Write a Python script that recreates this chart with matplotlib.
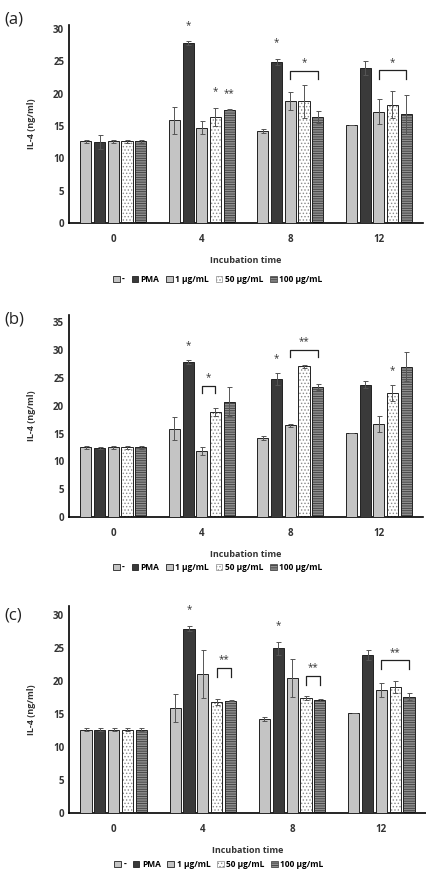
import matplotlib.pyplot as plt
from matplotlib.patches import Patch
import numpy as np

plt.rcParams['font.family'] = ['Open Sans', 'DejaVu Sans']
plt.rcParams['hatch.linewidth'] = 0.6

times = ['0', '4', '8', '12']
series = ['-', 'PMA', '1 µg/mL', '50 µg/mL', '100 µg/mL']

# panel (a): rows = series, cols = incubation time
a_vals = [[12.6, 15.9, 14.2, 15.1],
          [12.5, 27.8, 24.9, 23.9],
          [12.6, 14.7, 18.8, 17.2],
          [12.6, 16.4, 18.8, 18.3],
          [12.6, 17.5, 16.4, 16.8]]
a_errs = [[0.2, 2.1, 0.3, 0.0],
          [1.1, 0.3, 0.5, 1.1],
          [0.2, 1.0, 1.4, 1.9],
          [0.2, 1.4, 2.6, 2.1],
          [0.2, 0.1, 0.9, 3.0]]

# panel (b)
b_vals = [[12.5, 15.9, 14.2, 15.1],
          [12.4, 27.9, 24.8, 23.8],
          [12.5, 11.8, 16.5, 16.7],
          [12.5, 18.9, 27.1, 22.3],
          [12.5, 20.7, 23.4, 27.0]]
b_errs = [[0.2, 2.1, 0.3, 0.0],
          [0.2, 0.4, 1.0, 0.7],
          [0.2, 0.7, 0.3, 1.5],
          [0.2, 0.7, 0.3, 1.5],
          [0.2, 2.6, 0.5, 2.6]]

# panel (c)
c_vals = [[12.6, 15.9, 14.2, 15.1],
          [12.6, 27.9, 24.9, 23.9],
          [12.6, 21.0, 20.4, 18.6],
          [12.6, 16.8, 17.4, 19.0],
          [12.6, 17.0, 17.1, 17.6]]
c_errs = [[0.2, 2.1, 0.3, 0.0],
          [0.2, 0.4, 1.0, 0.8],
          [0.2, 3.6, 2.9, 1.0],
          [0.2, 0.4, 0.3, 0.9],
          [0.2, 0.1, 0.2, 0.5]]

# significance stars: (time index, series index, label)
a_stars = [(1, 1, '*'), (1, 3, '*'), (1, 4, '**'), (2, 1, '*')]
b_stars = [(1, 1, '*'), (2, 1, '*'), (3, 3, '*')]
c_stars = [(1, 1, '*'), (2, 1, '*')]
# brackets: (time index, first series, last series, height, label)
a_brackets = [(2, 2, 4, 23.5, '*'), (3, 2, 4, 23.6, '*')]
b_brackets = [(1, 2, 3, 23.6, '*'), (2, 2, 4, 30.1, '**')]
c_brackets = [(1, 3, 4, 21.9, '**'), (2, 3, 4, 20.7, '**'), (3, 2, 4, 23.1, '**')]

face = ['#c4c4c4', '#3a3a3a', '#c4c4c4', '#ffffff', '#8e8e8e']
hatch = [None, None, None, '.....', '-------']
hatch_col = [None, None, None, '#8a8a8a', '#3c3c3c']

fig = plt.figure(figsize=(4.26, 8.69), dpi=100)

# label, data, ymax, axes rect, panel-label y, legend offset
panels = [
    ('(a)', a_vals, a_errs, a_stars, a_brackets, 30.6,
     [0.162, 0.7434, 0.831, 0.2278], 0.977, -0.245),
    ('(b)', b_vals, b_errs, b_stars, b_brackets, 36.3,
     [0.162, 0.405, 0.831, 0.2325], 0.632, -0.21),
    ('(c)', c_vals, c_errs, c_stars, c_brackets, 31.25,
     [0.162, 0.0644, 0.838, 0.2378], 0.292, -0.21),
]

x = np.arange(len(times))
step = 0.155
w = 0.125

handles = []
for i in range(len(series)):
    if hatch[i]:
        handles.append(Patch(facecolor=face[i], hatch=hatch[i],
                             edgecolor=hatch_col[i], linewidth=0.5, label=series[i]))
    else:
        handles.append(Patch(facecolor=face[i], edgecolor='#222222',
                             linewidth=0.6, label=series[i]))

for label, vals, errs, stars, brackets, ytop, rect, ly, loff in panels:
    ax = fig.add_axes(rect)
    for i in range(len(series)):
        pos = x + (i - 2) * step
        v = np.array(vals[i])
        e = np.array(errs[i])
        if hatch[i]:
            ax.bar(pos, v, w, color=face[i], hatch=hatch[i],
                   edgecolor=hatch_col[i], linewidth=0, zorder=2)
            ax.bar(pos, v, w, color='none', edgecolor='#222222',
                   linewidth=0.7, zorder=3)
        else:
            ax.bar(pos, v, w, color=face[i], edgecolor='#222222',
                   linewidth=0.7, zorder=3)
        ax.errorbar(pos, v, yerr=e, fmt='none', ecolor='#555555',
                    elinewidth=0.7, capsize=1.8, capthick=0.7, zorder=4)
    for t, s, txt in stars:
        top = vals[s][t] + errs[s][t]
        ax.text(x[t] + (s - 2) * step, top + 1.6, txt, ha='center', va='bottom',
                fontsize=7, color='#333333')
    for t, s0, s1, h, txt in brackets:
        x0 = x[t] + (s0 - 2) * step
        x1 = x[t] + (s1 - 2) * step
        ax.plot([x0, x0, x1, x1], [h - 1.3, h, h, h - 1.3], color='#222222',
                lw=0.9, zorder=5)
        ax.text((x0 + x1) / 2, h + 0.4, txt, ha='center', va='bottom',
                fontsize=7, color='#333333')

    ax.set_xlim(-0.5, 3.5)
    ax.set_ylim(0, ytop)
    ax.set_yticks(np.arange(0, ytop, 5))
    ax.set_xticks(x)
    ax.set_xticklabels(times)
    ax.tick_params(axis='both', length=0, labelsize=7, colors='#333333')
    ax.tick_params(axis='x', pad=8)
    for lab in ax.get_xticklabels() + ax.get_yticklabels():
        lab.set_fontweight('bold')
    ax.spines['top'].set_visible(False)
    ax.spines['right'].set_visible(False)
    ax.spines['left'].set_linewidth(1.2)
    ax.spines['bottom'].set_linewidth(1.2)
    ax.set_ylabel('IL-4 (ng/ml)', fontsize=6.5, fontweight='bold',
                  color='#333333', labelpad=12)
    ax.set_xlabel('Incubation time', fontsize=6.5, fontweight='bold',
                  color='#333333', labelpad=8)
    ax.legend(handles=handles, loc='upper center', bbox_to_anchor=(0.42, loff),
              ncol=5, frameon=False, handlelength=0.8, handleheight=0.8,
              handletextpad=0.3, columnspacing=0.8, borderaxespad=0,
              prop={'weight': 'bold', 'size': 6})
    fig.text(0.01, ly, label, fontsize=12, va='center', color='#222222')

fig.savefig('out.png', dpi=100)
